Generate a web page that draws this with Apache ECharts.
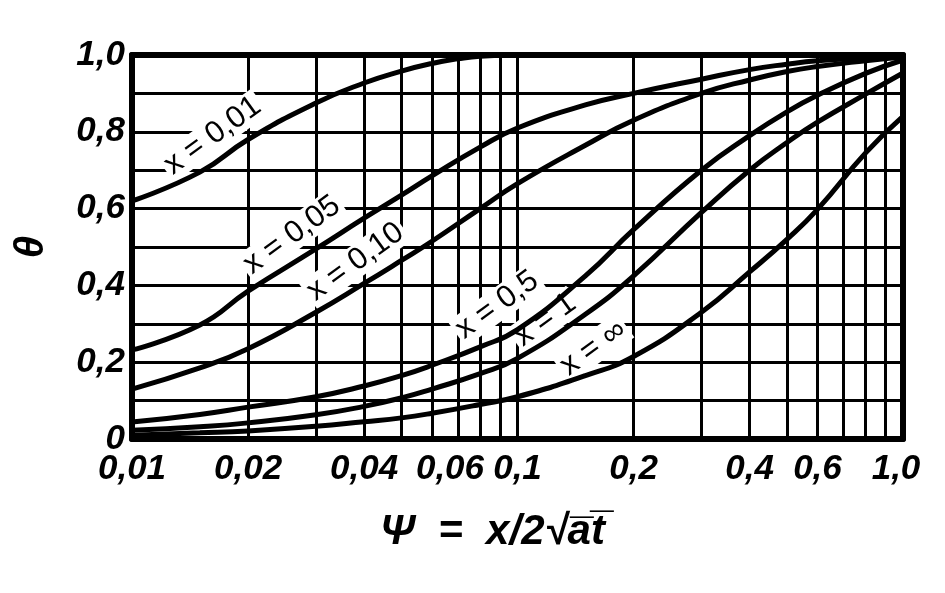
<!DOCTYPE html>
<html><head><meta charset="utf-8">
<script src="https://cdn.jsdelivr.net/npm/echarts@6/dist/echarts.min.js"></script>
<style>html,body{margin:0;padding:0;background:#fff}#c{width:945px;height:593px}</style>
</head><body><div id="c"></div>
<script>
// ---- data ----
const psiA = [0.01, 0.015, 0.02, 0.03, 0.04, 0.05, 0.06, 0.07, 0.08, 0.1];
const thetaA = [0.62, 0.695, 0.78, 0.875, 0.927, 0.958, 0.978, 0.99, 0.997, 1.0];           // x=0,01
const psi = [0.01, 0.015, 0.02, 0.03, 0.04, 0.05, 0.06, 0.08, 0.1, 0.15, 0.2, 0.3, 0.4, 0.5, 0.6, 0.8, 1.0];
const thetaB = [0.232, 0.297, 0.385, 0.495, 0.575, 0.635, 0.685, 0.76, 0.81, 0.87, 0.90, 0.937, 0.962, 0.976, 0.985, 0.993, 1.0]; // x=0,05
const thetaC = [0.13, 0.185, 0.235, 0.33, 0.405, 0.465, 0.515, 0.60, 0.665, 0.765, 0.83, 0.90, 0.935, 0.957, 0.97, 0.985, 0.995]; // x=0,10
const thetaD = [0.044, 0.064, 0.083, 0.11, 0.138, 0.165, 0.192, 0.24, 0.285, 0.425, 0.545, 0.70, 0.79, 0.852, 0.895, 0.952, 0.987]; // x=0,5
const thetaE = [0.023, 0.032, 0.042, 0.063, 0.085, 0.107, 0.13, 0.17, 0.21, 0.325, 0.425, 0.59, 0.70, 0.772, 0.825, 0.898, 0.953]; // x=1
const thetaF = [0.01, 0.016, 0.021, 0.033, 0.045, 0.055, 0.067, 0.09, 0.11, 0.165, 0.215, 0.33, 0.435, 0.52, 0.598, 0.745, 0.84]; // x=∞

const curveLabels = ['x = 0,01', 'x = 0,05', 'x = 0,10', 'x = 0,5', 'x = 1', 'x = ∞'];
const labelPsi = [0.0162, 0.026, 0.038, 0.0886, 0.118, 0.1573];
const labelTheta = [0.79, 0.531, 0.461, 0.349, 0.31, 0.237];

const gridPsi = [0.01,0.02,0.03,0.04,0.05,0.06,0.07,0.08,0.09,0.1,0.2,0.3,0.4,0.5,0.6,0.7,0.8,0.9,1.0];
const tickPsi = [0.01, 0.02, 0.04, 0.06, 0.1, 0.2, 0.4, 0.6, 1.0];
const tickLabels = ['0,01', '0,02', '0,04', '0,06', '0,1', '0,2', '0,4', '0,6', '1,0'];
const yTicks = [0, 0.2, 0.4, 0.6, 0.8, 1.0];
const yLabels = ['0', '0,2', '0,4', '0,6', '0,8', '1,0'];
const xName = 'Ψ  =  x/2√a̅t̅';
const yName = 'θ';

// ---- chart ----
const FONT = "'Liberation Sans', Arial, sans-serif";
const lg = Math.log10;
const chart = echarts.init(document.getElementById('c'), null, {renderer: 'canvas'});

function series(xs, ys, k) {
  return {
    type: 'line', data: xs.map((p, i) => [lg(p), ys[i]]),
    smooth: 0.5, symbol: 'none', z: 5,
    lineStyle: {color: '#000', width: 5},
    markPoint: {
      z: 4, symbol: 'rect', symbolSize: 1, itemStyle: {color: 'rgba(0,0,0,0)'},
      label: {show: true, position: 'inside', formatter: curveLabels[k], rotate: 36,
        color: '#000', fontFamily: FONT, fontSize: 31, backgroundColor: '#fff', padding: [0, 3]},
      data: [{coord: [lg(labelPsi[k]), labelTheta[k]]}]
    }
  };
}

const frameStyle = {color: '#000', width: 6};
const tickFont = {color: '#000', fontFamily: FONT, fontSize: 35, fontStyle: 'italic', fontWeight: 'bold'};
chart.setOption({
  animation: false,
  backgroundColor: '#fff',
  grid: {left: 132, right: 42, top: 55, bottom: 154},
  xAxis: [{
    type: 'value', min: -2, max: 0,
    axisLine: {show: true, onZero: false, lineStyle: frameStyle},
    axisTick: {show: false, customValues: gridPsi.map(lg)},
    splitLine: {show: true, lineStyle: {color: '#000', width: 3}},
    axisLabel: Object.assign({
      customValues: tickPsi.map(lg), margin: 13,
      formatter: v => {
        const i = tickPsi.findIndex(p => Math.abs(lg(p) - v) < 1e-6);
        if (i < 0) return '';
        if (i === 3) return '{r|' + tickLabels[i] + '}';
        if (i === tickPsi.length - 1) return '{l|' + tickLabels[i] + '}';
        return tickLabels[i];
      },
      rich: {
        r: Object.assign({padding: [0, 0, 0, 36]}, tickFont),
        l: Object.assign({padding: [0, 14, 0, 0]}, tickFont)
      }
    }, tickFont),
    name: xName, nameLocation: 'middle', nameGap: 72,
    nameTextStyle: {color: '#000', fontFamily: FONT, fontSize: 42, fontStyle: 'italic', fontWeight: 'bold', padding: [0, 50, 0, 0]}
  }, {
    type: 'value', min: -2, max: 0, position: 'top',
    axisLine: {show: true, onZero: false, lineStyle: frameStyle},
    axisTick: {show: false}, axisLabel: {show: false}, splitLine: {show: false}
  }],
  yAxis: [{
    type: 'value', min: 0, max: 1, interval: 0.1,
    axisLine: {show: true, onZero: false, lineStyle: frameStyle},
    axisTick: {show: false},
    splitLine: {show: true, lineStyle: {color: '#000', width: 3}},
    axisLabel: Object.assign({
      margin: 7,
      formatter: v => { const i = yTicks.findIndex(t => Math.abs(t - v) < 1e-6); return i >= 0 ? yLabels[i] : ''; }
    }, tickFont),
    name: yName, nameLocation: 'middle', nameGap: 80, nameRotate: 90,
    nameTextStyle: {color: '#000', fontFamily: FONT, fontSize: 40, fontStyle: 'italic', fontWeight: 'bold'}
  }, {
    type: 'value', min: 0, max: 1, position: 'right',
    axisLine: {show: true, onZero: false, lineStyle: frameStyle},
    axisTick: {show: false}, axisLabel: {show: false}, splitLine: {show: false}
  }],
  series: [
    series(psiA, thetaA, 0),
    series(psi, thetaB, 1),
    series(psi, thetaC, 2),
    series(psi, thetaD, 3),
    series(psi, thetaE, 4),
    series(psi, thetaF, 5)
  ]
});
</script></body></html>
